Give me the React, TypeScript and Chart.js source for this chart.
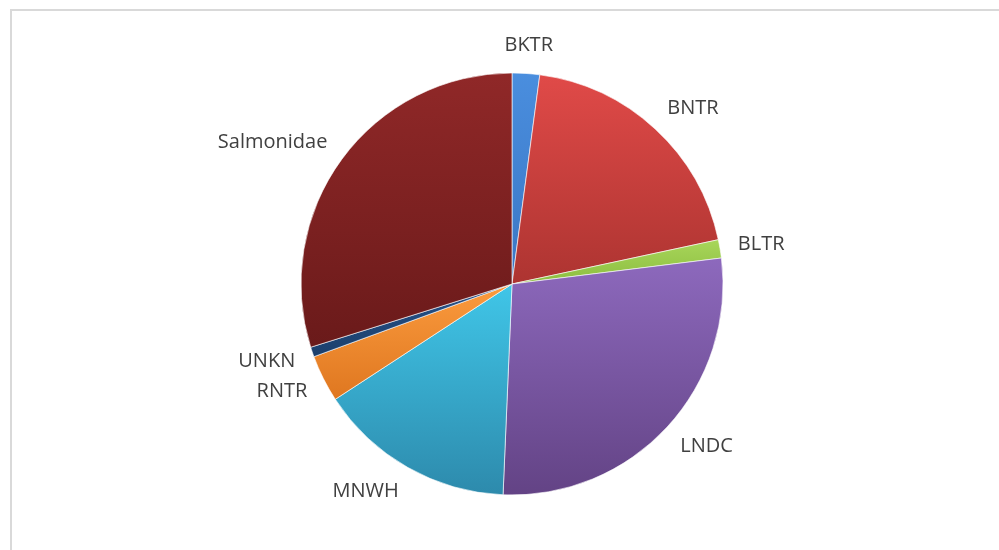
import React, { useEffect, useRef } from "react";
import { Chart, registerables } from "chart.js";

Chart.register(...registerables);

const categories = ["BKTR", "BNTR", "BLTR", "LNDC", "MNWH", "RNTR", "UNKN", "Salmonidae"];
const values = [2.1, 19.5, 1.4, 27.6, 15.1, 3.6, 0.75, 29.8];
const topColors = ["#4a8ede", "#e04a48", "#a8d65a", "#8d69bd", "#40c6e8", "#fb9b3e", "#27538a", "#902828"];
const bottomColors = ["#3a76c4", "#ad3431", "#8cbd40", "#634385", "#2d8aac", "#df7720", "#1b3f6c", "#6a1a1a"];

const W = 983;
const H = 534;
const CX = 504;
const CY = 276;
const R = 211;
const BW = 1;

function sliceGradient(ctx: any) {
  const chart = ctx.chart;
  const i = ctx.dataIndex;
  const area = chart.chartArea;
  if (!area || i === undefined) return topColors[i ?? 0];
  const cx = (area.left + area.right) / 2;
  const cy = (area.top + area.bottom) / 2;
  const r = (Math.min(area.right - area.left, area.bottom - area.top) - BW) / 2;
  const total = values.reduce((a, b) => a + b, 0);
  let acc = 0;
  for (let k = 0; k < i; k++) acc += values[k];
  const a0 = (acc / total) * Math.PI * 2;
  const a1 = ((acc + values[i]) / total) * Math.PI * 2;
  const ys = [cy, cy - r * Math.cos(a0), cy - r * Math.cos(a1)];
  if (a0 <= 0.0001) ys.push(cy - r);
  if (a0 <= Math.PI && a1 >= Math.PI) ys.push(cy + r);
  if (a1 >= Math.PI * 2 - 0.0001) ys.push(cy - r);
  const y0 = Math.min(...ys);
  const y1 = Math.max(...ys);
  const g = chart.ctx.createLinearGradient(0, y0, 0, Math.max(y1, y0 + 1));
  g.addColorStop(0, topColors[i]);
  g.addColorStop(1, bottomColors[i]);
  return g;
}

const labelPlugin = {
  id: "outLabels",
  afterDatasetsDraw(chart: any) {
    const ctx = chart.ctx;
    const meta = chart.getDatasetMeta(0);
    ctx.save();
    ctx.font = '20px "Open Sans"';
    ctx.fillStyle = "#404040";
    ctx.textAlign = "center";
    ctx.textBaseline = "middle";
    meta.data.forEach((arc: any, i: number) => {
      const p = arc.getProps(["x", "y", "startAngle", "endAngle", "outerRadius"], true);
      const mid = (p.startAngle + p.endAngle) / 2;
      const c = Math.cos(mid);
      const s = Math.sin(mid);
      const label = categories[i];
      const w = ctx.measureText(label).width;
      const h = 20;
      const d = p.outerRadius + 18;
      const hx = Math.abs(c) > 0.3 ? Math.sign(c) : c;
      const tx = p.x + d * c + (w / 2) * hx;
      const ty = p.y + d * s + (h / 2) * s;
      ctx.fillText(label, tx, ty);
    });
    ctx.restore();
  },
};

export default function App() {
  const ref = useRef<HTMLCanvasElement | null>(null);
  useEffect(() => {
    if (!ref.current) return;
    const side = 2 * R + BW;
    const left = CX - side / 2;
    const top = CY - side / 2;
    const chart = new Chart(ref.current, {
      type: "pie",
      data: {
        labels: categories,
        datasets: [
          {
            data: values,
            backgroundColor: sliceGradient as any,
            borderColor: "rgba(255,255,255,0.6)",
            borderWidth: BW,
          },
        ],
      },
      options: {
        animation: false,
        responsive: true,
        maintainAspectRatio: false,
        layout: {
          padding: { left, top, right: W - left - side, bottom: H - top - side },
        },
        plugins: {
          legend: { display: false },
          tooltip: { enabled: false },
        },
      },
      plugins: [labelPlugin],
    });
    return () => chart.destroy();
  }, []);
  return (
    <>
      <div
        style={{
          position: "fixed",
          left: 10,
          top: 9,
          width: 1100,
          height: 700,
          borderTop: "2px solid #d9d9d9",
          borderLeft: "2px solid #d9d9d9",
          pointerEvents: "none",
        }}
      />
      <div style={{ width: W, height: H, position: "relative" }}>
        <canvas ref={ref} />
      </div>
    </>
  );
}
